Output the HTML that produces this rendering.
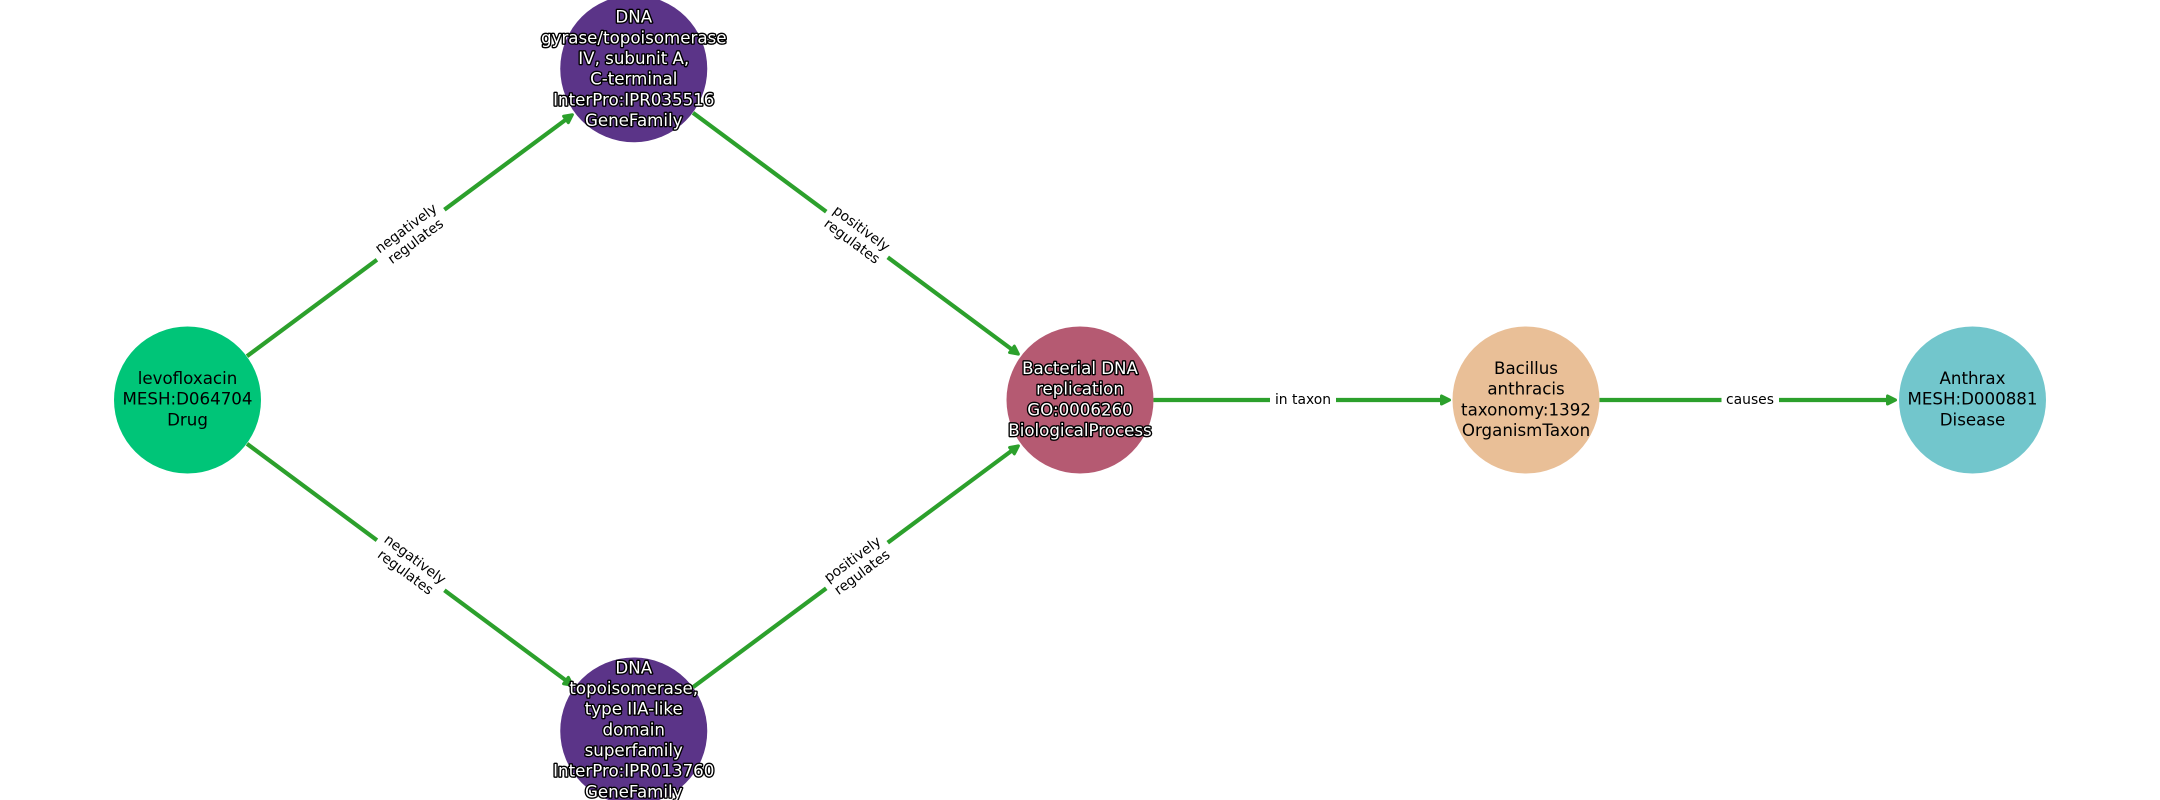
<!DOCTYPE html>
<html><head><meta charset="utf-8"><style>
html,body{margin:0;padding:0;background:#fff;width:2160px;height:800px;overflow:hidden}
svg{display:block;font-family:"DejaVu Sans",sans-serif}
.e{stroke:#2ca02c;stroke-width:4.17;fill:none}
.a{fill:#2ca02c;stroke:#2ca02c;stroke-width:3;stroke-linejoin:round}
.n{font-size:16.67px;text-anchor:middle;fill:#000}
.h{font-size:16.67px;text-anchor:middle;fill:#fff;stroke:#000;stroke-width:2.78;paint-order:stroke;stroke-linejoin:round}
.l{font-size:13.89px;text-anchor:middle;fill:#000}
</style></head><body>
<svg width="2160" height="800" viewBox="0 0 2160 800" xmlns="http://www.w3.org/2000/svg">
<rect width="2160" height="800" fill="#fff"/>
<circle cx="187.5" cy="400" r="73.5" fill="#00c578"/>
<circle cx="633.75" cy="68.75" r="73.5" fill="#5b3488"/>
<circle cx="633.75" cy="731" r="73.5" fill="#5b3488"/>
<circle cx="1080" cy="400" r="73.5" fill="#b55a72"/>
<circle cx="1526" cy="400" r="73.5" fill="#e9bf97"/>
<circle cx="1972.5" cy="400" r="73.5" fill="#72c6cc"/>
<line class="e" x1="247" y1="356.2" x2="568" y2="118"/>
<line class="e" x1="693" y1="112.8" x2="1014" y2="351"/>
<line class="e" x1="247" y1="443.8" x2="568" y2="682"/>
<line class="e" x1="693" y1="687.2" x2="1014" y2="449"/>
<line class="e" x1="1153.5" y1="400" x2="1445" y2="400"/>
<line class="e" x1="1599.5" y1="400" x2="1891" y2="400"/>
<polygon class="a" transform="translate(574,113.5) rotate(-36.58)" points="-2,0 -10,-4 -10,4"/>
<polygon class="a" transform="translate(1020,355.3) rotate(36.58)" points="-2,0 -10,-4 -10,4"/>
<polygon class="a" transform="translate(574,686.5) rotate(36.58)" points="-2,0 -10,-4 -10,4"/>
<polygon class="a" transform="translate(1020,444.7) rotate(-36.58)" points="-2,0 -10,-4 -10,4"/>
<polygon class="a" transform="translate(1451.5,400)" points="-2,0 -10,-4 -10,4"/>
<polygon class="a" transform="translate(1897.5,400)" points="-2,0 -10,-4 -10,4"/>
<g transform="translate(410.5,234.5) rotate(-36.58)"><rect x="-42" y="-24" width="84" height="48" fill="#fff"/><text class="l"><tspan x="0" y="-3">negatively</tspan><tspan x="0" y="13">regulates</tspan></text></g>
<g transform="translate(857,234.5) rotate(36.58)"><rect x="-38.3" y="-24" width="76.6" height="48" fill="#fff"/><text class="l"><tspan x="0" y="-3">positively</tspan><tspan x="0" y="13">regulates</tspan></text></g>
<g transform="translate(410.5,565.5) rotate(36.58)"><rect x="-42" y="-24" width="84" height="48" fill="#fff"/><text class="l"><tspan x="0" y="-3">negatively</tspan><tspan x="0" y="13">regulates</tspan></text></g>
<g transform="translate(857,565.5) rotate(-36.58)"><rect x="-38.3" y="-24" width="76.6" height="48" fill="#fff"/><text class="l"><tspan x="0" y="-3">positively</tspan><tspan x="0" y="13">regulates</tspan></text></g>
<rect x="1270" y="385" width="66" height="30" fill="#fff"/><text class="l" x="1303" y="404">in taxon</text>
<rect x="1721.5" y="385" width="57.5" height="30" fill="#fff"/><text class="l" x="1750" y="404">causes</text>
<text class="n"><tspan x="187.5" y="384">levofloxacin</tspan><tspan x="187.5" y="404.7">MESH:D064704</tspan><tspan x="187.5" y="425.4">Drug</tspan></text>
<text class="h"><tspan x="633.75" y="22.7">DNA</tspan><tspan x="633.75" y="43.4">gyrase/topoisomerase</tspan><tspan x="633.75" y="64">IV, subunit A,</tspan><tspan x="633.75" y="84.7">C-terminal</tspan><tspan x="633.75" y="105.4">InterPro:IPR035516</tspan><tspan x="633.75" y="126">GeneFamily</tspan></text>
<text class="h"><tspan x="633.75" y="673.3">DNA</tspan><tspan x="633.75" y="694">topoisomerase,</tspan><tspan x="633.75" y="714.7">type IIA-like</tspan><tspan x="633.75" y="735.3">domain</tspan><tspan x="633.75" y="756">superfamily</tspan><tspan x="633.75" y="776.7">InterPro:IPR013760</tspan><tspan x="633.75" y="797.4">GeneFamily</tspan></text>
<text class="h"><tspan x="1080" y="374">Bacterial DNA</tspan><tspan x="1080" y="394.7">replication</tspan><tspan x="1080" y="415.3">GO:0006260</tspan><tspan x="1080" y="436">BiologicalProcess</tspan></text>
<text class="n"><tspan x="1526" y="374">Bacillus</tspan><tspan x="1526" y="394.7">anthracis</tspan><tspan x="1526" y="415.3">taxonomy:1392</tspan><tspan x="1526" y="436">OrganismTaxon</tspan></text>
<text class="n"><tspan x="1972.5" y="384">Anthrax</tspan><tspan x="1972.5" y="404.7">MESH:D000881</tspan><tspan x="1972.5" y="425.4">Disease</tspan></text>
</svg>
</body></html>
